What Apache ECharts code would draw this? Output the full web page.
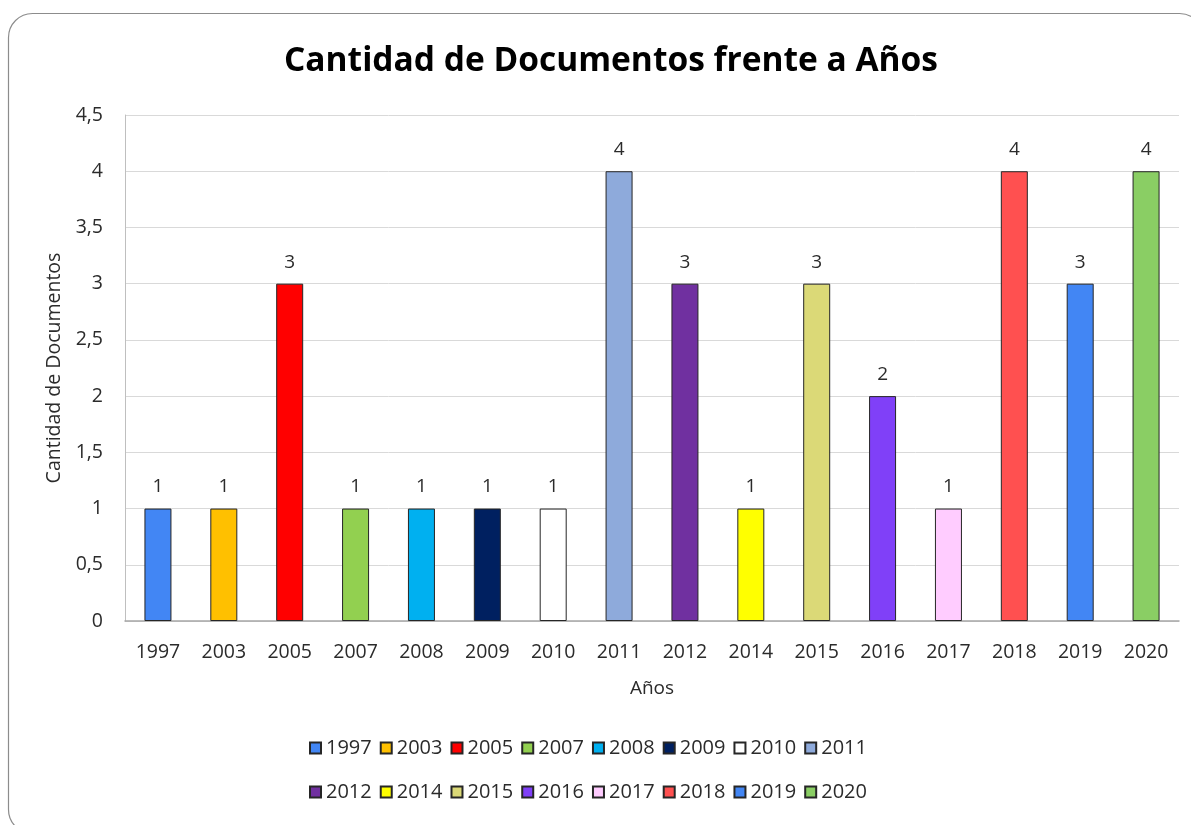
<!DOCTYPE html>
<html>
<head>
<meta charset="utf-8">
<script src="https://cdn.jsdelivr.net/npm/echarts@6/dist/echarts.min.js"></script>
<style>
html,body{margin:0;padding:0;background:#fff;}
#chart{width:1191px;height:825px;}
</style>
</head>
<body>
<div id="chart"></div>
<script>
const titleText = 'Cantidad de Documentos frente a Años';
const xAxisName = 'Años';
const yAxisName = 'Cantidad de Documentos';
const categories = ['1997','2003','2005','2007','2008','2009','2010','2011','2012','2014','2015','2016','2017','2018','2019','2020'];
const values = [1,1,3,1,1,1,1,4,3,1,3,2,1,4,3,4];
const colors = ['#4286F4','#FFC000','#FF0000','#92D050','#00B0F0','#002060','#FFFFFF','#8EAADB','#7030A0','#FFFF00','#DBD977','#8040F8','#FFCCFF','#FF5050','#4286F4','#8ACE64'];
const yTicks = {min:0, max:4.5, interval:0.5};

const FONT = 'Open Sans';
const TXT = '#2b2b2b';

const series = categories.map((c, i) => ({
  name: c,
  type: 'bar',
  barWidth: 27,
  barGap: '-100%',
  data: categories.map((cc, j) => j === i ? values[i] : null),
  itemStyle: { color: colors[i], borderColor: '#262626', borderWidth: 1 },
  label: {
    show: true, position: 'top', distance: 12,
    color: TXT, fontFamily: FONT, fontSize: 19,
    formatter: p => String(p.value).replace('.', ',')
  },
  emphasis: { disabled: true }
}));

const legendCommon = {
  icon: 'rect', itemWidth: 11, itemHeight: 11, itemGap: 8,
  textStyle: { color: TXT, fontFamily: FONT, fontSize: 20 },
  orient: 'horizontal', selectedMode: false
};

const chart = echarts.init(document.getElementById('chart'), null, {renderer: 'canvas'});
chart.setOption({
  animation: false,
  backgroundColor: '#ffffff',
  graphic: [{
    type: 'rect', silent: true, z: -10,
    shape: { x: 8.5, y: 13.5, width: 1195, height: 820, r: 24 },
    style: { fill: 'none', stroke: '#8c8c8c', lineWidth: 1.2 }
  }],
  title: {
    text: titleText, left: 606, top: 39, textAlign: 'center',
    textStyle: { fontFamily: FONT, fontWeight: 'bold', fontSize: 33.5, color: '#000' }
  },
  legend: [
    Object.assign({}, legendCommon, { data: categories.slice(0, 8), left: 304, top: 733 }),
    Object.assign({}, legendCommon, { data: categories.slice(8), left: 304, top: 777 })
  ],
  grid: { left: 125, right: 12, top: 115, bottom: 204, containLabel: false },
  xAxis: {
    type: 'category', data: categories,
    name: xAxisName, nameLocation: 'middle', nameGap: 58,
    nameTextStyle: { color: TXT, fontFamily: FONT, fontSize: 19 },
    axisLine: { show: true, lineStyle: { color: '#a6a6a6', width: 1.5 } },
    axisTick: { show: false },
    axisLabel: { color: TXT, fontFamily: FONT, fontSize: 19.5, margin: 21, interval: 0 },
    splitLine: { show: false }
  },
  yAxis: {
    type: 'value', min: yTicks.min, max: yTicks.max, interval: yTicks.interval,
    name: yAxisName, nameLocation: 'middle', nameGap: 57, nameRotate: 90,
    nameTextStyle: { color: TXT, fontFamily: FONT, fontSize: 19.5 },
    axisLine: { show: true, lineStyle: { color: '#bfbfbf' } },
    axisTick: { show: false },
    axisLabel: { color: TXT, fontFamily: FONT, fontSize: 19.5, margin: 22,
      formatter: v => String(v).replace('.', ',') },
    splitLine: { show: true, lineStyle: { color: '#d9d9d9', width: 1 } }
  },
  series: series
});
</script>
</body>
</html>
